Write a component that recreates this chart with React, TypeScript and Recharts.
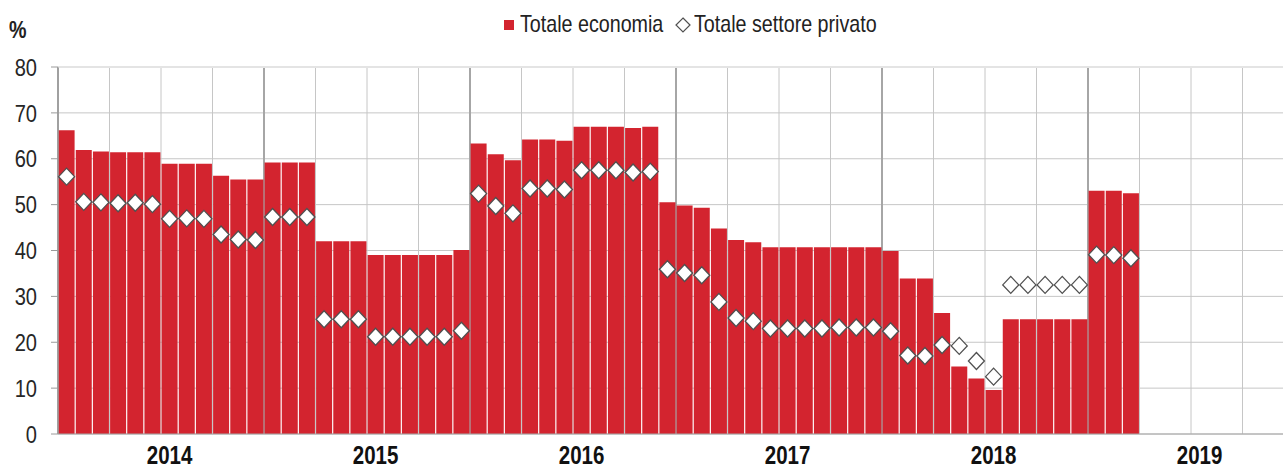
import React from 'react';
import { ComposedChart, Bar, Line, XAxis, YAxis, CartesianGrid, ReferenceLine, Legend } from 'recharts';

const years = [2014, 2015, 2016, 2017, 2018, 2019];
const monthCodes = ['01', '02', '03', '04', '05', '06', '07', '08', '09', '10', '11', '12'];
const months = years.flatMap((y) => monthCodes.map((m) => `${y}-${m}`));

// Totale economia, gen 2014 - mar 2019
const totaleEconomia = [
  66.2, 61.9, 61.6, 61.4, 61.4, 61.4, 58.9, 58.9, 58.9, 56.3, 55.5, 55.5,
  59.2, 59.2, 59.2, 42.0, 42.0, 42.0, 39.0, 39.0, 39.0, 39.0, 39.0, 40.1,
  63.3, 61.0, 59.7, 64.2, 64.2, 63.9, 67.0, 67.0, 67.0, 66.7, 67.0, 50.5,
  49.8, 49.3, 44.8, 42.3, 41.8, 40.7, 40.7, 40.7, 40.7, 40.7, 40.7, 40.7,
  39.9, 33.9, 33.9, 26.4, 14.7, 12.1, 9.6, 25.0, 25.0, 25.0, 25.0, 25.0,
  53.0, 53.0, 52.5,
];

// Totale settore privato
const settorePrivato = [
  56.1, 50.6, 50.5, 50.3, 50.4, 50.1, 46.9, 47.0, 46.9, 43.5, 42.4, 42.3,
  47.3, 47.3, 47.3, 25.0, 25.0, 25.0, 21.2, 21.2, 21.2, 21.2, 21.2, 22.5,
  52.4, 49.7, 48.1, 53.5, 53.5, 53.3, 57.5, 57.5, 57.5, 57.0, 57.2, 35.9,
  35.1, 34.6, 28.8, 25.3, 24.6, 23.0, 23.0, 23.0, 23.0, 23.2, 23.2, 23.2,
  22.4, 17.1, 17.0, 19.4, 19.2, 15.9, 12.5, 32.5, 32.5, 32.5, 32.5, 32.5,
  39.1, 39.0, 38.3,
];

const yTicks = [0, 10, 20, 30, 40, 50, 60, 70, 80];

const data = months.map((m, i) => ({
  month: m,
  economia: totaleEconomia[i] ?? null,
  privato: settorePrivato[i] ?? null,
}));

const RED = '#D3242F';
const FONT = "'Liberation Sans', Arial, sans-serif";
const NARROW = 0.82; // the original uses a condensed face

const quarterLines = ({ offset }: any) => {
  const step = offset.width / months.length;
  return months
    .map((_, i) => i)
    .filter((i) => i % 3 === 0 && i % 12 !== 0)
    .map((i) => offset.left + i * step);
};

const yearLines = ({ offset }: any) => {
  const step = offset.width / months.length;
  return years.map((_, i) => offset.left + i * 12 * step);
};

const Diamond = (props: any) => {
  const { cx, cy, value, index } = props;
  if (value == null || cx == null || cy == null) return <g key={`d-${index}`} />;
  return (
    <path
      key={`d-${index}`}
      d={`M${cx},${cy - 8.5}L${cx + 8},${cy}L${cx},${cy + 8.5}L${cx - 8},${cy}Z`}
      fill="#fff"
      stroke="#505050"
      strokeWidth={1.3}
    />
  );
};

const YearTick = ({ x, y, payload }: any) => {
  const v = String(payload.value);
  if (!v.endsWith('-07')) return <g />;
  return (
    <text
      transform={`translate(${x},${y}) scale(${NARROW},1)`}
      dy="0.71em"
      textAnchor="middle"
      fontFamily={FONT}
      fontWeight="bold"
      fontSize={25}
      fill="#111"
    >
      {v.slice(0, 4)}
    </text>
  );
};

const ValueTick = ({ x, y, payload }: any) => (
  <text
    transform={`translate(${x},${y}) scale(${NARROW},1)`}
    dy="0.355em"
    textAnchor="end"
    fontFamily={FONT}
    fontSize={24.5}
    fill="#262626"
  >
    {payload.value}
  </text>
);

const narrowText = (left: number, text: string, bold = false, top = 12) => (
  <span
    style={{
      position: 'absolute',
      left,
      top,
      fontWeight: bold ? 'bold' : 'normal',
      transform: `scaleX(${NARROW})`,
      transformOrigin: 'left',
      whiteSpace: 'nowrap',
    }}
  >
    {text}
  </span>
);

const LegendBox = () => (
  <div style={{ position: 'relative', width: 1283, height: 40, fontFamily: FONT, fontSize: 24, lineHeight: '24px', color: '#222' }}>
    {narrowText(9, '%', true, 18)}
    <span style={{ position: 'absolute', left: 504, top: 20, width: 10, height: 10, background: RED }} />
    {narrowText(520, 'Totale economia')}
    <svg width={16} height={16} style={{ position: 'absolute', left: 675, top: 17 }}>
      <path d="M8,1L15,8L8,15L1,8Z" fill="#fff" stroke="#505050" strokeWidth={1.2} />
    </svg>
    {narrowText(694, 'Totale settore privato')}
  </div>
);

export default function App() {
  return (
    <div style={{ position: 'fixed', left: 0, top: 0, width: 1283, height: 468, overflow: 'hidden', background: '#fff' }}>
      <ComposedChart
        width={1300}
        height={468}
        data={data}
        margin={{ top: 27, right: 6, bottom: 0, left: 0 }}
        barCategoryGap={0.6}
      >
        <Legend verticalAlign="top" content={<LegendBox />} wrapperStyle={{ top: 0, left: 0 }} />
        <CartesianGrid stroke="#c6c6c6" vertical verticalCoordinatesGenerator={quarterLines} />
        <CartesianGrid stroke="#a6a6a6" strokeWidth={2} horizontal={false} verticalCoordinatesGenerator={yearLines} />
        <XAxis
          dataKey="month"
          interval={0}
          tick={<YearTick />}
          tickLine={false}
          tickSize={0}
          tickMargin={12}
          height={34}
          axisLine={{ stroke: '#a6a6a6' }}
        />
        <YAxis
          domain={[0, 80]}
          ticks={yTicks}
          interval={0}
          width={58}
          tickSize={7}
          tickMargin={14}
          axisLine={{ stroke: '#9a9a9a' }}
          tickLine={{ stroke: '#9a9a9a' }}
          tick={<ValueTick />}
        />
        <ReferenceLine y={80} stroke="#e4e4e4" strokeWidth={2} />
        <Bar dataKey="economia" fill={RED} isAnimationActive={false} legendType="square" />
        <Line
          dataKey="privato"
          stroke="none"
          dot={Diamond}
          activeDot={false}
          isAnimationActive={false}
          legendType="diamond"
        />
      </ComposedChart>
    </div>
  );
}
